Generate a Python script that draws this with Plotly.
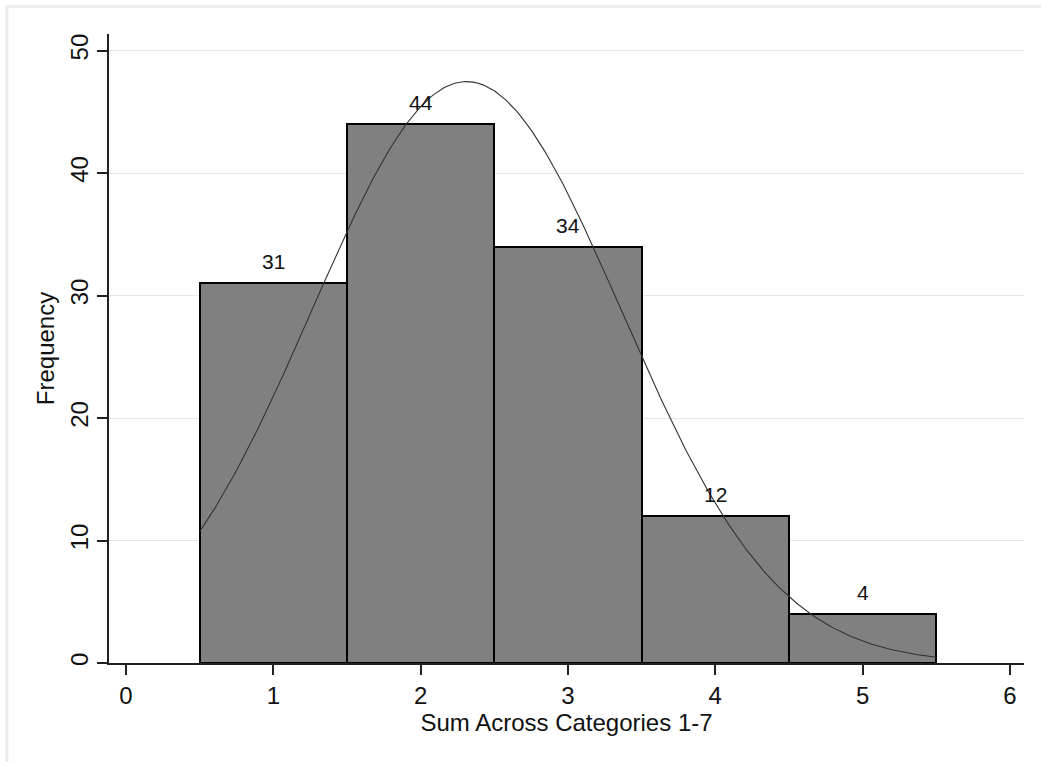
import numpy as np
import plotly.graph_objects as go

# ---- data ----
categories = [1, 2, 3, 4, 5]          # sum across categories 1-7 (bin centres)
frequencies = [31, 44, 34, 12, 4]     # bar heights
x_ticks = [0, 1, 2, 3, 4, 5, 6]
y_ticks = [0, 10, 20, 30, 40, 50]
x_title = "Sum Across Categories 1-7"
y_title = "Frequency"

# ---- normal curve fitted to the data (as Stata's `histogram ..., normal`) ----
vals = np.repeat(categories, frequencies)
mu = vals.mean()
sd = vals.std(ddof=1)
n = len(vals)
bin_w = 1.0
xs = np.linspace(min(categories) - bin_w / 2, max(categories) + bin_w / 2, 300)
ys = n * bin_w * np.exp(-0.5 * ((xs - mu) / sd) ** 2) / (sd * np.sqrt(2 * np.pi))

FONT = "Arial, 'Liberation Sans', Helvetica, sans-serif"

fig = go.Figure()
fig.add_trace(go.Bar(
    x=categories, y=frequencies, width=bin_w,
    marker=dict(color="#808080", line=dict(color="#000000", width=2)),
    hoverinfo="x+y", showlegend=False,
))
fig.add_trace(go.Scatter(
    x=xs, y=ys, mode="lines",
    line=dict(color="#333333", width=1.1),
    hoverinfo="skip", showlegend=False,
))

for c, f in zip(categories, frequencies):
    fig.add_annotation(
        x=c, y=f, text=str(f), showarrow=False,
        xanchor="center", yanchor="bottom", yshift=8,
        font=dict(family=FONT, size=21, color="#111111"),
    )

# light grey frame lines at the image's top and left edges
fig.add_shape(type="line", xref="paper", yref="paper",
              x0=-0.1115, x1=1.05, y0=1.0437, y1=1.0437,
              line=dict(color="#ececec", width=3), layer="below")
fig.add_shape(type="line", xref="paper", yref="paper",
              x0=-0.1115, x1=-0.1115, y0=1.0437, y1=-0.2,
              line=dict(color="#ececec", width=3), layer="below")

fig.update_layout(
    width=1041, height=762, autosize=False,
    margin=dict(l=109, r=17, t=34, b=99, pad=0),
    paper_bgcolor="#ffffff", plot_bgcolor="#ffffff",
    font=dict(family=FONT, size=24, color="#111111"),
    bargap=0,
)
fig.update_xaxes(
    range=[-0.1154, 6.096], tickmode="array", tickvals=x_ticks,
    ticks="outside", ticklen=10, tickwidth=1.5, tickcolor="#222222",
    showline=True, linecolor="#222222", linewidth=1.5,
    showgrid=False, zeroline=False,
    tickfont=dict(family=FONT, size=24, color="#111111"),
    title=dict(text=x_title, standoff=2,
               font=dict(family=FONT, size=24, color="#111111")),
)
fig.update_yaxes(
    range=[0, 51.36], tickmode="array", tickvals=y_ticks,
    tickangle=-90,
    ticks="outside", ticklen=10, tickwidth=1.5, tickcolor="#222222",
    showline=True, linecolor="#222222", linewidth=1.5,
    showgrid=True, gridcolor="#e6e6e6", gridwidth=1,
    zeroline=False,
    tickfont=dict(family=FONT, size=24, color="#111111"),
    title=dict(text=y_title, standoff=4,
               font=dict(family=FONT, size=24, color="#111111")),
)

fig.write_html(
    "out.html",
    config={"displayModeBar": False},
    post_script="document.body.style.margin='0';document.body.style.padding='0';",
)
